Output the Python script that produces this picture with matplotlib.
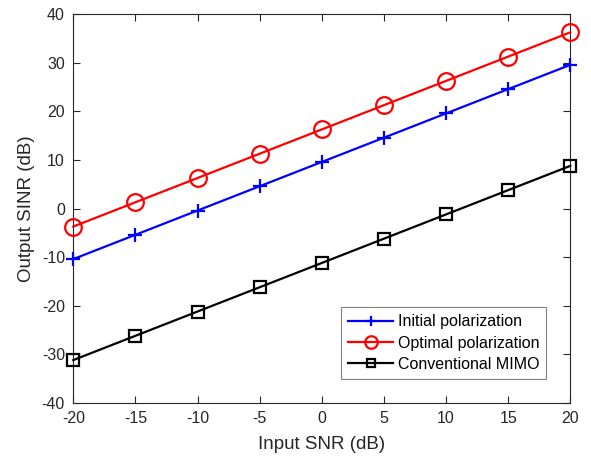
import matplotlib
matplotlib.use("Agg")
import matplotlib.pyplot as plt

input_snr = [-20, -15, -10, -5, 0, 5, 10, 15, 20]
initial_pol = [-10.4, -5.4, -0.4, 4.6, 9.6, 14.6, 19.6, 24.6, 29.6]
optimal_pol = [-3.7, 1.3, 6.3, 11.3, 16.3, 21.3, 26.3, 31.3, 36.3]
conventional = [-31.2, -26.2, -21.2, -16.2, -11.2, -6.2, -1.2, 3.8, 8.8]

x_ticks = [-20, -15, -10, -5, 0, 5, 10, 15, 20]
y_ticks = [-40, -30, -20, -10, 0, 10, 20, 30, 40]

plt.rcParams['font.family'] = ['Liberation Sans', 'DejaVu Sans']
plt.rcParams['axes.unicode_minus'] = False

fig = plt.figure(figsize=(5.91, 4.63), dpi=100)
ax = fig.add_axes([0.124, 0.130, 0.841, 0.839])

ax.plot(input_snr, initial_pol, color='#0000ff', lw=1.6, marker='+', ms=10,
        mew=1.6, label='Initial polarization', clip_on=False, zorder=3)
ax.plot(input_snr, optimal_pol, color='#ff0000', lw=1.6, marker='o', ms=12,
        mew=1.6, mfc='none', label='Optimal polarization', clip_on=False, zorder=3)
ax.plot(input_snr, conventional, color='black', lw=1.6, marker='s', ms=8,
        mew=1.6, mfc='none', label='Conventional MIMO', clip_on=False, zorder=3)

ax.set_xlim(-20, 20)
ax.set_ylim(-40, 40)
ax.set_xticks(x_ticks)
ax.set_yticks(y_ticks)
ax.tick_params(direction='in', top=True, right=True, length=5, width=0.8,
               colors='#262626', labelsize=11.5, pad=6)
for s in ax.spines.values():
    s.set_color('#262626')
    s.set_linewidth(0.8)

ax.set_xlabel('Input SNR (dB)', fontsize=13.5, color='#262626', labelpad=7)
ax.set_ylabel('Output SINR (dB)', fontsize=13.5, color='#262626', labelpad=5)

leg = ax.legend(loc='lower right', bbox_to_anchor=(0.952, 0.061),
                fontsize=11.5, fancybox=False, framealpha=1, markerscale=0.75,
                edgecolor='#808080', borderaxespad=0, handlelength=2.8,
                handletextpad=0.3, labelspacing=0.4, borderpad=0.45)
leg.get_frame().set_linewidth(0.8)

fig.savefig('out.png', dpi=100)
